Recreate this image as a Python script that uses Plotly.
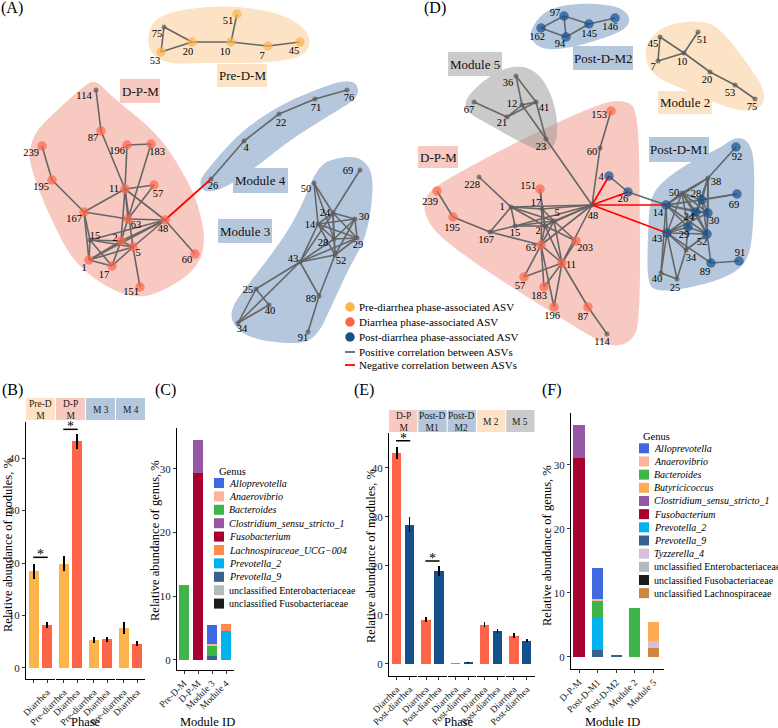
import plotly.graph_objects as go

W, H = 778, 728
FONT = "Liberation Serif"

# ======================= DATA =======================
# network layouts (node: x, y, phase association)
A_nodes = {
    "51": (237, 14, "pre"), "75": (164, 27, "none"), "20": (192, 42, "pre"), "10": (231, 42, "pre"),
    "7": (268, 46, "pre"), "45": (300, 42, "pre"), "53": (161, 52, "pre"),
    "114": (96, 90, "none"), "87": (101, 131, "dia"), "239": (42, 146, "dia"), "196": (127, 145, "dia"),
    "183": (151, 144, "dia"), "195": (52, 180, "dia"), "11": (125, 189, "dia"), "57": (154, 185, "dia"),
    "167": (84, 212, "dia"), "63": (128, 219, "dia"), "48": (165, 220, "dia"), "15": (90, 240, "none"),
    "2": (121, 241, "dia"), "5": (133, 247, "dia"), "1": (89, 260, "dia"), "17": (112, 266, "dia"),
    "60": (195, 254, "dia"), "151": (140, 287, "dia"),
    "26": (211, 179, "none"), "4": (244, 141, "none"), "22": (279, 114, "none"), "71": (315, 99, "none"),
    "76": (347, 90, "none"),
    "69": (360, 170, "none"), "50": (314, 183, "none"), "24": (333, 213, "none"), "30": (355, 219, "none"),
    "14": (318, 224, "none"), "28": (334, 239, "none"), "29": (357, 238, "none"), "52": (335, 255, "none"),
    "43": (300, 262, "none"), "25": (256, 289, "none"), "40": (269, 305, "none"), "34": (238, 323, "none"),
    "89": (319, 296, "none"), "91": (308, 332, "none"),
}
A_edges = """75-20 75-53 53-20 20-10 10-51 10-7 7-45
114-87 87-11 239-195 195-167 196-183 196-11 183-63 11-57 11-167 11-48 11-63 11-2 11-5
57-63 167-63 167-15 167-1 63-48 48-60 48-2 48-5 48-15 48-1 15-2 15-1 15-17 15-5 2-1 2-17 2-5 1-5 1-17 17-5 5-151 63-2
26-4 4-22 22-71 71-76
69-24 50-24 50-28 50-14 24-30 24-14 24-28 24-29 24-52 30-14 30-28 30-29 30-52 14-28 14-29 14-52 28-29 28-52 29-52
43-14 43-24 43-28 43-29 43-52 43-25 43-34 43-89 25-40 25-34 34-40 52-89 89-91""".split()
A_neg_edges = ["48-26"]

D_nodes = {
    "97": (564, 16, "post"), "162": (541, 28, "post"), "94": (566, 37, "post"), "145": (589, 24, "post"),
    "146": (615, 18, "post"),
    "45": (660, 37, "none"), "51": (698, 32, "none"), "7": (658, 61, "none"), "10": (684, 53, "none"),
    "20": (710, 72, "none"), "53": (735, 85, "none"), "75": (755, 99, "none"),
    "36": (516, 76, "none"), "67": (474, 102, "none"), "12": (522, 105, "none"), "41": (536, 102, "none"),
    "21": (507, 117, "none"), "23": (546, 139, "none"),
    "153": (611, 111, "dia"), "60": (600, 148, "none"), "4": (609, 176, "post"), "26": (628, 192, "post"),
    "48": (592, 205, "none"), "228": (479, 177, "none"), "151": (540, 189, "dia"), "239": (437, 191, "dia"),
    "1": (511, 207, "none"), "17": (542, 209, "none"), "5": (554, 221, "none"), "195": (453, 217, "dia"),
    "15": (515, 226, "none"), "2": (545, 226, "none"), "167": (490, 232, "none"), "63": (541, 245, "dia"),
    "203": (576, 241, "dia"), "11": (562, 263, "dia"), "57": (524, 277, "dia"), "183": (544, 287, "dia"),
    "196": (554, 307, "dia"), "87": (588, 307, "dia"), "114": (607, 334, "none"),
    "92": (736, 147, "post"), "38": (708, 178, "none"), "50": (682, 193, "none"), "28": (702, 200, "post"),
    "69": (737, 194, "post"), "14": (666, 205, "post"), "24": (696, 212, "post"), "30": (708, 213, "post"),
    "43": (667, 233, "post"), "29": (688, 227, "post"), "52": (707, 234, "post"), "34": (686, 250, "none"),
    "91": (739, 261, "post"), "89": (711, 263, "post"), "40": (661, 273, "none"), "25": (677, 279, "none"),
}
D_edges = """162-97 162-94 97-94 97-145 94-145 145-146
45-7 45-10 7-10 10-51 10-20 20-53 53-75
36-12 36-41 12-41 12-21 21-41 67-21 41-23 12-23 23-48
153-60 60-48 48-1 48-17 48-5 48-2 48-15 48-63 48-11 228-1 1-17 1-5 1-2 1-15 1-167 17-151 17-5 17-2 17-63
151-2 5-15 5-2 5-63 5-203 5-11 2-15 2-63 2-11 2-203 15-167 167-195 195-239 167-63 63-57 63-183 63-11 63-196
11-57 11-183 11-196 11-87 87-114 203-11
4-26 26-14
92-38 38-50 38-28 38-14 38-24 38-30 38-52 69-28 69-14 50-14 50-28 50-24 50-30 50-43 50-29 50-52 14-28 14-24
14-30 14-43 14-29 14-52 28-24 28-30 28-29 28-52 24-30 24-43 24-29 24-52 30-43 30-52 43-29 43-52 43-40 43-25
43-34 43-89 29-52 29-34 14-40 34-25 34-52 52-89 89-91 40-25""".split()
D_neg_edges = ["48-4", "48-26", "48-14", "48-43"]

# (B) module abundance by phase
B_modules = ["Pre-D-M", "D-P-M", "Module 3", "Module 4"]
B_strips = ["Pre-D<br>M", "D-P<br>M", "M 3", "M 4"]
B_phases = ["Pre-diarrhea", "Diarrhea"]
B_pre = [18.4, 19.9, 5.4, 7.6]
B_pre_se = [1.4, 1.4, 0.6, 1.1]
B_dia = [8.2, 43.2, 5.5, 4.6]
B_dia_se = [0.6, 1.5, 0.5, 0.5]
B_sig = [21.1, 45.5, None, None]

# (E) module abundance by phase
E_modules = ["D-P-M", "Post-D-M1", "Post-D-M2", "Module 2", "Module 5"]
E_strips = ["D-P<br>M", "Post-D<br>M1", "Post-D<br>M2", "M 2", "M 5"]
E_phases = ["Diarrhea", "Post-diarrhea"]
E_dia = [43.0, 9.0, 0.2, 8.0, 5.8]
E_dia_se = [1.2, 0.5, 0.05, 0.5, 0.45]
E_post = [28.4, 18.9, 0.35, 6.7, 4.7]
E_post_se = [1.5, 1.0, 0.1, 0.45, 0.3]
E_sig = [45.5, 21.0, None, None, None]

# (C) genus composition of modules
C_modules = ["Pre-D-M", "D-P-M", "Module 3", "Module 4"]
C_genera = ["Alloprevotella", "Anaerovibrio", "Bacteroides", "Clostridium_sensu_stricto_1", "Fusobacterium",
            "Lachnospiraceae_UCG\u2212004", "Prevotella_2", "Prevotella_9",
            "unclassified Enterobacteriaceae", "unclassified Fusobacteriaceae"]
C_values = {
    "Alloprevotella": [0, 0, 2.9, 0],
    "Anaerovibrio": [0, 0, 0.3, 0],
    "Bacteroides": [11.8, 0, 1.6, 0],
    "Clostridium_sensu_stricto_1": [0, 5.2, 0, 0],
    "Fusobacterium": [0, 29.3, 0, 0],
    "Lachnospiraceae_UCG\u2212004": [0, 0, 0, 1.0],
    "Prevotella_2": [0, 0, 0, 4.6],
    "Prevotella_9": [0, 0, 0.65, 0],
    "unclassified Enterobacteriaceae": [0, 0, 0, 0],
    "unclassified Fusobacteriaceae": [0, 0, 0, 0],
}

# (F) genus composition of modules
F_modules = ["D-P-M", "Post-D-M1", "Post-D-M2", "Module 2", "Module 5"]
F_genera = ["Alloprevotella", "Anaerovibrio", "Bacteroides", "Butyricicoccus", "Clostridium_sensu_stricto_1",
            "Fusobacterium", "Prevotella_2", "Prevotella_9", "Tyzzerella_4",
            "unclassified Enterobacteriaceae", "unclassified Fusobacteriaceae", "unclassified Lachnospiraceae"]
F_values = {
    "Alloprevotella": [0, 4.8, 0, 0, 0],
    "Anaerovibrio": [0, 0.4, 0, 0, 0],
    "Bacteroides": [0, 2.35, 0, 7.65, 0],
    "Butyricicoccus": [0, 0, 0, 0, 3.0],
    "Clostridium_sensu_stricto_1": [5.3, 0, 0, 0, 0],
    "Fusobacterium": [31.0, 0, 0, 0, 0],
    "Prevotella_2": [0, 5.3, 0, 0, 0],
    "Prevotella_9": [0, 1.0, 0.3, 0, 0],
    "Tyzzerella_4": [0, 0, 0, 0, 1.05],
    "unclassified Enterobacteriaceae": [0, 0, 0, 0, 0],
    "unclassified Fusobacteriaceae": [0, 0, 0, 0, 0],
    "unclassified Lachnospiraceae": [0, 0, 0, 0, 1.4],
}

# ======================= STYLE =======================
PHASE_COL = {"Pre-diarrhea": "#FDB44B", "Diarrhea": "#FE6548", "Post-diarrhea": "#14508C"}
NODE_COL = {"pre": "#FDB44B", "dia": "#FE6548", "post": "#14508C", "none": "#585858"}
GENUS_COL = {
    "Alloprevotella": "#4068E0", "Anaerovibrio": "#FCB39C", "Bacteroides": "#3EB449",
    "Butyricicoccus": "#FFAA55", "Clostridium_sensu_stricto_1": "#9559A3", "Fusobacterium": "#A8002F",
    "Lachnospiraceae_UCG\u2212004": "#FF8A4C", "Prevotella_2": "#00B3EE", "Prevotella_9": "#36628D",
    "Tyzzerella_4": "#D8BEDB", "unclassified Enterobacteriaceae": "#B3BCBC",
    "unclassified Fusobacteriaceae": "#1C1C1C", "unclassified Lachnospiraceae": "#CD853F",
}
HULL = {"orange": "rgba(249,199,139,0.5)", "pink": "rgba(241,147,131,0.5)",
        "blue": "rgba(107,143,187,0.5)", "grey": "rgba(150,150,150,0.5)"}
BOX = {"orange": "#FCE3C5", "pink": "#F8C9C1", "blue": "#B5C7DD", "grey": "#CBCBCB"}

A_lab = {"51": (-9, 7), "75": (-7, 7), "20": (-4, 10), "10": (-6, 10), "7": (-6, 10), "45": (-6, 9),
         "53": (-6, 9), "114": (-12, 6), "87": (-8, 7), "239": (-11, 7), "196": (-10, 6), "183": (6, 8),
         "195": (-11, 7), "11": (-11, 0), "57": (4, 9), "167": (-10, 7), "63": (8, 6), "48": (-2, 9),
         "15": (5, -4), "2": (-6, -3), "5": (5, 6), "1": (-5, 8), "17": (-8, 9), "60": (-8, 6),
         "151": (-9, 5), "26": (2, 7), "4": (2, 7), "22": (2, 9), "71": (1, 9), "76": (2, 8),
         "69": (-12, 1), "50": (-8, 6), "24": (-8, 0), "30": (9, -2), "14": (-8, 1), "28": (-11, 4),
         "29": (1, 7), "52": (6, 6), "43": (-7, -3), "25": (-8, 1), "40": (1, 6), "34": (4, 6),
         "89": (-8, 3), "91": (-5, 6)}
D_lab = {"97": (-9, -3), "162": (-4, 9), "94": (-6, 7), "145": (0, 10), "146": (-5, 9), "45": (-7, 7),
         "51": (4, 8), "7": (-5, 6), "10": (-2, 9), "20": (-3, 8), "53": (-5, 8), "75": (-3, 8),
         "36": (-8, 7), "67": (-5, 8), "12": (-10, -1), "41": (8, 6), "21": (-5, 6), "23": (-5, 8),
         "153": (-12, 4), "60": (-8, 4), "4": (-8, 1), "26": (-5, 7), "48": (1, 11), "228": (-7, 8),
         "151": (-12, -3), "239": (-7, 11), "1": (-9, 0), "17": (-6, -6), "5": (3, -8), "195": (-1, 11),
         "15": (0, 7), "2": (-7, 5), "167": (-4, 8), "63": (-10, 3), "203": (9, 7), "11": (9, 2),
         "57": (-4, 9), "183": (-5, 9), "196": (-2, 9), "87": (-5, 10), "114": (-5, 8), "92": (1, 10),
         "38": (8, 4), "50": (-8, 0), "28": (-6, -6), "69": (-3, 11), "14": (-8, 8), "24": (-7, 5),
         "30": (6, 8), "43": (-10, 6), "29": (-4, 8), "52": (-5, 8), "34": (5, 8), "91": (1, -8),
         "89": (-6, 9), "40": (-4, 6), "25": (-2, 9)}

A_hulls = [
    ("orange", [(150, 22), (175, 10), (230, 5), (285, 14), (312, 35), (306, 56), (270, 63), (200, 63), (165, 64), (147, 50)]),
    ("pink", [(96, 80), (110, 95), (157, 133), (180, 167), (197, 200), (205, 235), (202, 258), (187, 277), (160, 292),
              (140, 298), (110, 290), (73, 262), (50, 217), (35, 180), (28, 155), (35, 132), (55, 112), (85, 85)]),
    ("blue", [(205, 172), (240, 132), (280, 105), (320, 88), (345, 80), (358, 84), (358, 98), (330, 115), (290, 140),
              (255, 168), (225, 188), (205, 193), (199, 183)]),
    ("blue", [(318, 165), (340, 157), (360, 157), (373, 172), (372, 205), (365, 240), (348, 270), (332, 305), (318, 335),
              (300, 345), (250, 339), (231, 323), (232, 305), (258, 272), (282, 240), (300, 210)]),
]
D_hulls = [
    ("blue", [(530, 30), (545, 10), (575, 3), (615, 5), (630, 15), (628, 28), (605, 38), (570, 48), (545, 50), (532, 42)]),
    ("orange", [(648, 40), (665, 25), (700, 20), (720, 28), (745, 60), (765, 90), (763, 107), (745, 112), (720, 105),
                (685, 90), (655, 77), (644, 58)]),
    ("pink", [(425, 195), (445, 180), (520, 140), (600, 103), (625, 100), (638, 110), (640, 200), (640, 325), (630, 343),
              (610, 347), (580, 330), (500, 280), (440, 238), (424, 215)]),
    ("grey", [(465, 98), (490, 75), (515, 65), (535, 70), (550, 90), (558, 120), (556, 145), (545, 152), (525, 145),
              (490, 125), (466, 112)]),
    ("blue", [(660, 183), (690, 162), (720, 148), (735, 137), (748, 140), (755, 160), (753, 240), (745, 265), (725, 278),
              (690, 288), (655, 292), (647, 280), (648, 230), (650, 200)]),
]
NET_BOXES = [
    ("Pre-D-M", "orange", 217, 64, 267, 87), ("D-P-M", "pink", 120, 79, 160, 103),
    ("Module 4", "blue", 233, 168, 288, 193), ("Module 3", "blue", 218, 219, 272, 243),
    ("Module 5", "grey", 448, 52, 502, 76), ("Post-D-M2", "blue", 573, 46, 633, 70),
    ("Module 2", "orange", 658, 91, 712, 114), ("D-P-M", "pink", 418, 146, 458, 168),
    ("Post-D-M1", "blue", 649, 137, 709, 162),
]

# ======================= HELPERS =======================
def fx(x):
    return x / W


def fy(y):
    return 1 - y / H


def smooth_path(pts, it=4):
    for _ in range(it):
        new = []
        n = len(pts)
        for i in range(n):
            (x0, y0), (x1, y1) = pts[i], pts[(i + 1) % n]
            new.append((0.75 * x0 + 0.25 * x1, 0.75 * y0 + 0.25 * y1))
            new.append((0.25 * x0 + 0.75 * x1, 0.25 * y0 + 0.75 * y1))
        pts = new
    return "M " + " L ".join(f"{x:.1f},{y:.1f}" for x, y in pts) + " Z"


fig = go.Figure()
shapes, annos = [], []
layout_axes = {
    "xaxis": dict(domain=[0, 1], range=[0, W], visible=False, fixedrange=True, automargin=False),
    "yaxis": dict(domain=[0, 1], range=[H, 0], visible=False, fixedrange=True, automargin=False),
}


def txt(x, y, s, size=11, **kw):
    d = dict(x=fx(x), y=fy(y), xref="paper", yref="paper", text=s, showarrow=False,
             xanchor="center", yanchor="middle",
             font=dict(family=FONT, size=size, color=kw.pop("color", "black")))
    d.update(kw)
    annos.append(d)


# ======================= NETWORKS =======================
for hulls in (A_hulls, D_hulls):
    for col, pts in hulls:
        shapes.append(dict(type="path", path=smooth_path(pts), xref="x", yref="y", fillcolor=HULL[col],
                           line=dict(width=0), layer="below"))
for label, col, x0, y0, x1, y1 in NET_BOXES:
    shapes.append(dict(type="rect", xref="x", yref="y", x0=x0, y0=y0, x1=x1, y1=y1, fillcolor=BOX[col],
                       line=dict(width=0), layer="below"))
    annos.append(dict(x=(x0 + x1) / 2, y=(y0 + y1) / 2, xref="x", yref="y", text=label, showarrow=False,
                      xanchor="center", yanchor="middle", font=dict(family=FONT, size=13, color="#111")))


def draw_network(nodes, edges, neg, lab):
    ex, ey = [], []
    for e in edges:
        a, b = e.split("-")
        ex += [nodes[a][0], nodes[b][0], None]
        ey += [nodes[a][1], nodes[b][1], None]
    fig.add_trace(go.Scatter(x=ex, y=ey, mode="lines", line=dict(color="#666666", width=1.6),
                             hoverinfo="skip", showlegend=False))
    rx, ry = [], []
    for e in neg:
        a, b = e.split("-")
        rx += [nodes[a][0], nodes[b][0], None]
        ry += [nodes[a][1], nodes[b][1], None]
    fig.add_trace(go.Scatter(x=rx, y=ry, mode="lines", line=dict(color="#FF0000", width=1.7),
                             hoverinfo="skip", showlegend=False))
    ids = list(nodes)
    fig.add_trace(go.Scatter(
        x=[nodes[i][0] for i in ids], y=[nodes[i][1] for i in ids], mode="markers",
        marker=dict(color=[NODE_COL[nodes[i][2]] for i in ids],
                    size=[5 if nodes[i][2] == "none" else 9.5 for i in ids], line=dict(width=0)),
        hoverinfo="skip", showlegend=False))
    fig.add_trace(go.Scatter(
        x=[nodes[i][0] + lab[i][0] for i in ids], y=[nodes[i][1] + lab[i][1] for i in ids],
        mode="text", text=ids, textfont=dict(family=FONT, size=10.5, color="black"),
        hoverinfo="skip", showlegend=False))


draw_network(A_nodes, A_edges, A_neg_edges, A_lab)
draw_network(D_nodes, D_edges, D_neg_edges, D_lab)

# network legend
leg_items = [("Pre-diarrhea phase-associated ASV", "pre"), ("Diarrhea phase-associated ASV", "dia"),
             ("Post-diarrhea phase-associated ASV", "post")]
fig.add_trace(go.Scatter(x=[350, 350, 350], y=[307, 322, 337], mode="markers",
                         marker=dict(color=[NODE_COL[k] for _, k in leg_items], size=9.5),
                         hoverinfo="skip", showlegend=False))
for i, (s, _) in enumerate(leg_items):
    txt(357, 307 + 15 * i, s, size=11, xanchor="left")
for j, (s, c) in enumerate([("Positive correlation between ASVs", "#666666"),
                            ("Negative correlation between ASVs", "#FF0000")]):
    yy = 352 + 13 * j
    shapes.append(dict(type="line", xref="x", yref="y", x0=345, x1=355, y0=yy, y1=yy, line=dict(color=c, width=1.8)))
    txt(357, yy, s, size=11, xanchor="left")

# panel letters
for s, x, y in [("(A)", 12, 8), ("(D)", 435, 8), ("(B)", 12, 390), ("(C)", 165, 390), ("(E)", 364, 390),
                ("(F)", 552, 390)]:
    txt(x, y, s, size=16)

# ======================= BAR PANELS =======================
AX_FONT = dict(family=FONT, size=11, color="#1a1a1a")


def yaxis_cfg(top, bottom, rng, anchor, tickvals):
    return dict(domain=[fy(bottom), fy(top)], range=rng, anchor=anchor, showline=True, linecolor="black",
                linewidth=1.1, ticks="outside", ticklen=3, tickcolor="#333", tickvals=tickvals,
                tickfont=AX_FONT, showgrid=False, zeroline=False, fixedrange=True, automargin=False)


def xaxis_cfg(x0, x1, rng, anchor, tickvals, ticktext):
    return dict(domain=[fx(x0), fx(x1)], range=rng, anchor=anchor, showline=True, linecolor="black",
                linewidth=1.1, ticks="outside", ticklen=3, tickcolor="#333", tickvals=tickvals,
                ticktext=ticktext, tickangle=-45, tickfont=dict(family=FONT, size=9.5, color="#1a1a1a"),
                showgrid=False, zeroline=False, fixedrange=True, automargin=False)


STRIP_COL_B = ["orange", "pink", "blue", "blue"]
STRIP_COL_E = ["pink", "blue", "blue", "orange", "grey"]


def facet_panel(ynum, xstart, ytop, ybot, yrng, left, step, width, modules, strips, strip_cols, phases,
                v1, s1, v2, s2, sig, strip_top, strip_bot):
    yname = f"y{ynum}"
    layout_axes[f"yaxis{ynum}"] = yaxis_cfg(ytop, ybot, yrng, f"x{xstart}", [0, 10, 20, 30, 40])
    for i, m in enumerate(modules):
        xn = xstart + i
        x0 = left + step * i
        layout_axes[f"xaxis{xn}"] = xaxis_cfg(x0, x0 + width, [0.4, 2.6], yname, [1, 2], phases)
        fig.add_trace(go.Bar(
            x=[1, 2], y=[v1[i], v2[i]], width=0.72,
            marker=dict(color=[PHASE_COL[phases[0]], PHASE_COL[phases[1]]], line=dict(width=0)),
            error_y=dict(type="data", array=[s1[i], s2[i]], color="black", thickness=1.6, width=0),
            xaxis=f"x{xn}", yaxis=yname, showlegend=False, hoverinfo="skip", name=m))
        shapes.append(dict(type="rect", xref="paper", yref="paper", x0=fx(x0), x1=fx(x0 + width),
                           y0=fy(strip_bot), y1=fy(strip_top), fillcolor=BOX[strip_cols[i]],
                           line=dict(width=0)))
        txt(x0 + width / 2, (strip_top + strip_bot) / 2 + 0.5, strips[i], size=9.5, color="#1a1a1a")
        if sig[i] is not None:
            shapes.append(dict(type="line", xref=f"x{xn}", yref=yname, x0=0.95, x1=2.05, y0=sig[i], y1=sig[i],
                               line=dict(color="black", width=1.5)))
            annos.append(dict(x=1.5, y=sig[i], xref=f"x{xn}", yref=yname, text="*", showarrow=False,
                              xanchor="center", yanchor="bottom", yshift=-7,
                              font=dict(family=FONT, size=14, color="black")))


# (B)
facet_panel(2, 2, 422, 679, [-2.1, 46.9], 26, 30, 29, B_modules, B_strips, STRIP_COL_B, B_phases,
            B_pre, B_pre_se, B_dia, B_dia_se, B_sig, 398, 420)
# (E)
facet_panel(4, 7, 433, 676, [-2.45, 47.1], 389, 29.3, 28.3, E_modules, E_strips, STRIP_COL_E, E_phases,
            E_dia, E_dia_se, E_post, E_post_se, E_sig, 410, 432)


def stack_panel(ynum, xnum, ytop, ybot, yrng, x0, x1, xrng, modules, genera, values, tickvals):
    yname = f"y{ynum}"
    layout_axes[f"yaxis{ynum}"] = yaxis_cfg(ytop, ybot, yrng, f"x{xnum}", tickvals)
    layout_axes[f"xaxis{xnum}"] = xaxis_cfg(x0, x1, xrng, yname, list(range(1, len(modules) + 1)), modules)
    for g in reversed(genera):
        fig.add_trace(go.Bar(x=list(range(1, len(modules) + 1)), y=values[g], width=0.72 if len(modules) == 4 else 0.6,
                             marker=dict(color=GENUS_COL[g], line=dict(width=0)), xaxis=f"x{xnum}", yaxis=yname,
                             showlegend=False, hoverinfo="skip", name=g))


stack_panel(3, 6, 428, 670, [-1.6, 36.4], 177, 234.4, [0.5, 4.6], C_modules, C_genera, C_values, [0, 10, 20, 30])
stack_panel(5, 12, 413, 669, [-1.9, 38.1], 571, 664, [0.57, 5.57], F_modules, F_genera, F_values, [0, 10, 20, 30])


def genus_legend(genera, title_x, title_y, sw_x, y0, step):
    txt(title_x, title_y, "Genus", size=10.5, xanchor="left")
    for k, g in enumerate(genera):
        yy = y0 + step * k
        shapes.append(dict(type="rect", xref="paper", yref="paper", x0=fx(sw_x), x1=fx(sw_x + 10),
                           y0=fy(yy + 5), y1=fy(yy - 5), fillcolor=GENUS_COL[g], line=dict(width=0)))
        label = g if g.startswith("unclassified") else f"<i>{g}</i>"
        txt(sw_x + 13, yy, label, size=10, xanchor="left")


genus_legend(C_genera, 217, 471, 214, 483, 13.4)
genus_legend(F_genera, 641, 436, 639, 448.3, 13.17)

# axis titles
txt(8, 545, "Relative abundance of modules, %", size=12.5, textangle=-90)
txt(155, 541, "Relative abundance of genus, %", size=12.5, textangle=-90)
txt(371, 556, "Relative abundance of modules, %", size=12.5, textangle=-90)
txt(547, 546, "Relative abundance of genus, %", size=12.5, textangle=-90)
txt(86, 722, "Phase", size=12.5)
txt(208, 722, "Module ID", size=12.5)
txt(459, 722, "Phase", size=12.5)
txt(612, 722, "Module ID", size=12.5)

fig.update_layout(
    template="none",
    width=W, height=H, margin=dict(l=0, r=0, t=0, b=0, pad=0, autoexpand=False),
    paper_bgcolor="white", plot_bgcolor="rgba(0,0,0,0)",
    barmode="stack", showlegend=False, shapes=shapes, annotations=annos,
    font=dict(family=FONT), **layout_axes,
)
fig.write_html("out.html", config={"displayModeBar": False},
               post_script="document.body.style.margin='0px';")
